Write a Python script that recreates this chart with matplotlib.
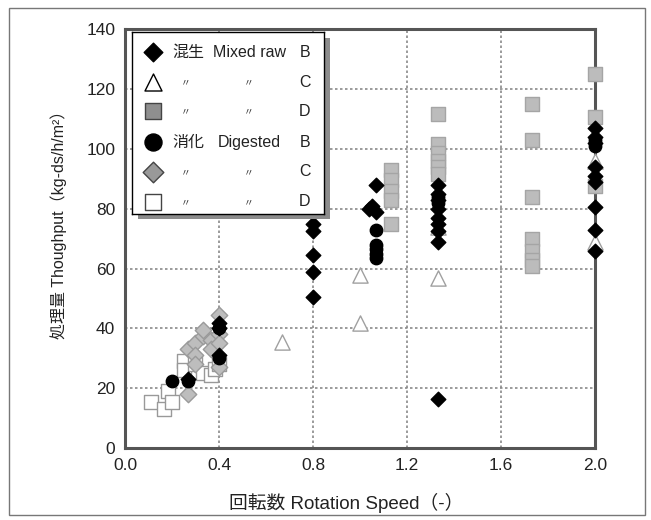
#!/usr/bin/env python3

import matplotlib
matplotlib.use('Agg')
import matplotlib.pyplot as plt
from matplotlib.patches import Rectangle

plt.rcParams['font.family'] = ['Liberation Sans', 'Noto Sans CJK JP']

# Mixed raw sludge, machine B / C / D
raw_b_x = [0.267, 0.4, 0.4, 0.4,
           0.8, 0.8, 0.8, 0.8, 0.8,
           1.04, 1.05, 1.067, 1.067,
           1.333, 1.333, 1.333, 1.333, 1.333, 1.333, 1.333, 1.333, 1.333,
           2.0, 2.0, 2.0, 2.0, 2.0, 2.0, 2.0, 2.0, 2.0]
raw_b_y = [23, 42, 40, 31,
           75, 72.5, 64.5, 59, 50.5,
           80, 81, 79, 88,
           88, 85, 83, 80, 77, 75, 72.5, 69, 16.5,
           107, 104, 102, 94, 91, 89, 80.5, 73, 66]

raw_c_x = [0.667, 1.0, 1.0, 1.333, 1.333, 2.0, 2.0]
raw_c_y = [35.5, 58, 42, 57, 74, 96, 69]

raw_d_x = [1.133, 1.133, 1.133, 1.133, 1.133,
           1.333, 1.333, 1.333, 1.333, 1.333, 1.333,
           1.733, 1.733, 1.733, 1.733, 1.733, 1.733, 1.733,
           2.0, 2.0, 2.0]
raw_d_y = [93, 89.5, 86, 83, 75,
           111.5, 101.5, 98.5, 96, 94, 91.5,
           115, 103, 84, 70, 66, 63, 61,
           125, 110.5, 87.5]

# Digested sludge, machine B / C / D
dig_b_x = [0.2, 0.267, 0.4, 0.4,
           1.067, 1.067, 1.067, 1.067, 1.067,
           1.333, 1.333, 2.0, 2.0]
dig_b_y = [22.5, 22.5, 40, 30,
           73, 68, 66.5, 65, 63.5,
           84, 82, 103, 101]

dig_c_x = [0.267, 0.267, 0.3, 0.3, 0.3, 0.333, 0.333, 0.367, 0.367,
           0.4, 0.4, 0.4, 0.4]
dig_c_y = [18, 33, 35, 31, 28, 37.5, 39.5, 36, 33,
           44.5, 38, 35, 27]

dig_d_x = [0.11, 0.167, 0.183, 0.2, 0.25, 0.25, 0.3, 0.333, 0.367, 0.383, 0.4]
dig_d_y = [15.5, 13, 19, 15.5, 29, 26, 28, 25, 24.5, 26.5, 28]

x_ticks = [0.0, 0.4, 0.8, 1.2, 1.6, 2.0]
y_ticks = [0, 20, 40, 60, 80, 100, 120, 140]

fig = plt.figure(figsize=(6.51, 5.20), dpi=100)
ax = fig.add_axes([0.192, 0.138, 0.722, 0.806])

# thin frame round the whole figure
fig.patches.append(Rectangle((0.014, 0.01), 0.977, 0.975, transform=fig.transFigure,
                             fill=False, edgecolor='#777777', linewidth=1.0))

kw = dict(linewidth=1.0, clip_on=False)
ax.scatter(dig_d_x, dig_d_y, marker='s', s=110, facecolor='white', edgecolor='#999999',
           zorder=3, **kw)
ax.scatter(dig_c_x, dig_c_y, marker='D', s=70, facecolor='#bdbdbd', edgecolor='#9a9a9a',
           zorder=3, **kw)
ax.scatter(raw_d_x, raw_d_y, marker='s', s=110, facecolor='#bcbcbc', edgecolor='#a5a5a5',
           zorder=3, **kw)
ax.scatter(raw_c_x, raw_c_y, marker='^', s=120, facecolor='white', edgecolor='#a0a0a0',
           zorder=3, **kw)
ax.scatter(dig_b_x, dig_b_y, marker='o', s=80, facecolor='black', edgecolor='black',
           zorder=4, **kw)
ax.scatter(raw_b_x, raw_b_y, marker='D', s=55, facecolor='black', edgecolor='black',
           zorder=4, **kw)

ax.set_xlim(0, 2.0)
ax.set_ylim(0, 140)
ax.set_xticks(x_ticks)
ax.set_xticklabels(['%.1f' % t for t in x_ticks])
ax.set_yticks(y_ticks)
ax.tick_params(length=0, labelsize=12.5, pad=7, colors='#222222')
ax.grid(True, color='#8a8a8a', linestyle=(0, (1.5, 1.5)), linewidth=1.2)
ax.set_axisbelow(True)
for sp in ax.spines.values():
    sp.set_color('#555555')
    sp.set_linewidth(2.2)
    sp.set_zorder(2.5)

xl = ax.set_xlabel('回転数 Rotation Speed（-）', fontsize=13.5, color='#222222')
xl.set_va('center')
ax.xaxis.set_label_coords(0.47, -0.131)
yl = ax.set_ylabel('処理量 Thoughput（kg-ds/h/m²）', fontsize=11.5, color='#222222')
yl.set_va('center')
ax.yaxis.set_label_coords(-0.142, 0.542)

# legend box with shadow
ax.add_patch(Rectangle((0.028, 0.548), 0.408, 0.432, transform=ax.transAxes,
                       facecolor='#8c8c8c', edgecolor='none', zorder=4.8))
leg = ax.inset_axes([0.015, 0.56, 0.408, 0.432])
leg.set_zorder(10)
leg.set_xlim(0, 1)
leg.set_ylim(0, 1)
leg.set_xticks([])
leg.set_yticks([])
for sp in leg.spines.values():
    sp.set_color('black')
    sp.set_linewidth(1.0)

rows = [
    ('D', 'black', 'black', '混生', 'Mixed raw', 'B', 90),
    ('^', 'white', 'black', '〃', '〃', 'C', 150),
    ('s', '#8f8f8f', '#444444', '〃', '〃', 'D', 120),
    ('o', 'black', 'black', '消化', 'Digested', 'B', 150),
    ('D', '#999999', '#444444', '〃', '〃', 'C', 110),
    ('s', 'white', '#444444', '〃', '〃', 'D', 120),
]
row_y = [0.89, 0.725, 0.565, 0.395, 0.23, 0.065]
for (mk, fc, ec, jp, en, letter, size), yy in zip(rows, row_y):
    leg.scatter([0.11], [yy], marker=mk, s=size, facecolor=fc, edgecolor=ec, linewidth=1.0)
    if jp == '〃':
        leg.text(0.28, yy, jp, fontsize=7, ha='center', va='center', color='#333333')
        leg.text(0.61, yy, en, fontsize=7, ha='center', va='center', color='#333333')
    else:
        leg.text(0.21, yy, jp, fontsize=11.5, ha='left', va='center', color='#222222')
        leg.text(0.61, yy, en, fontsize=11.5, ha='center', va='center', color='#222222')
    leg.text(0.9, yy, letter, fontsize=11.5, ha='center', va='center', color='#222222')

fig.savefig('out.png', dpi=100)
